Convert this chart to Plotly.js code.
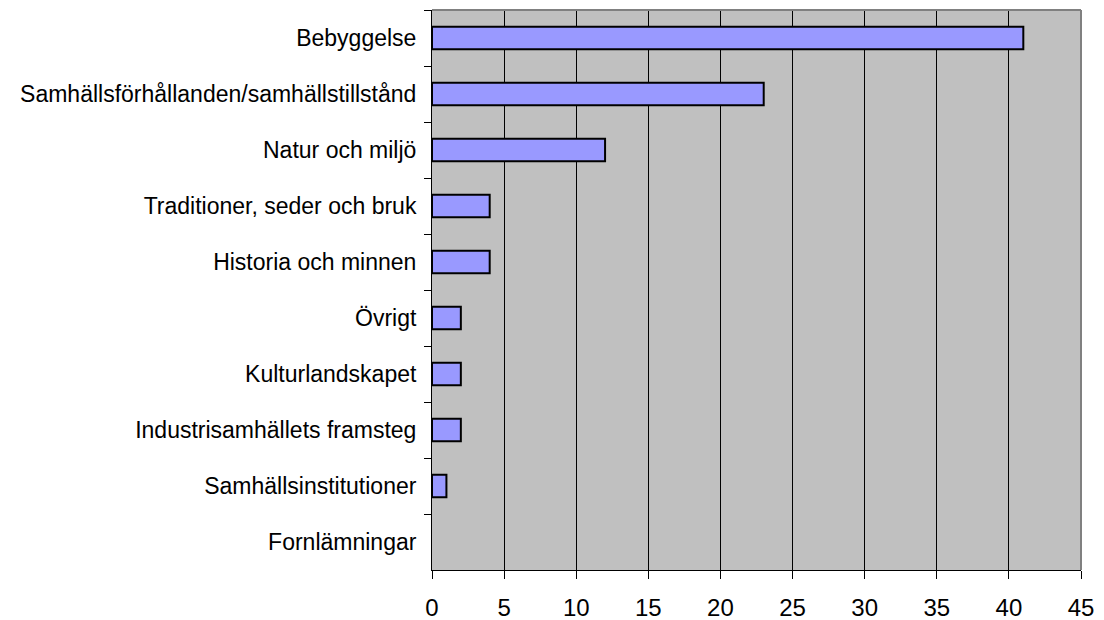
<!DOCTYPE html>
<html>
<head>
<meta charset="utf-8">
<script src="https://cdn.plot.ly/plotly-3.0.1.min.js"></script>
<style>
  body { margin: 0; background: #fff; }
  #chart { width: 1104px; height: 620px; }
</style>
</head>
<body>
<div id="chart"></div>
<script>
// categories, top to bottom
var categories = [
  "Bebyggelse",
  "Samhällsförhållanden/samhällstillstånd",
  "Natur och miljö",
  "Traditioner, seder och bruk",
  "Historia och minnen",
  "Övrigt",
  "Kulturlandskapet",
  "Industrisamhällets framsteg",
  "Samhällsinstitutioner",
  "Fornlämningar"
];
var counts = [41, 23, 12, 4, 4, 2, 2, 2, 1, 0];
var xTicks = [0, 5, 10, 15, 20, 25, 30, 35, 40, 45];

var trace = {
  type: "bar",
  orientation: "h",
  x: counts,
  y: categories,
  width: 0.4,
  marker: {
    color: "#9999FF",
    // no outline on an empty bar
    line: { color: "#000000", width: counts.map(function (v) { return v > 0 ? 2 : 0; }) }
  },
  hoverinfo: "x+y"
};

var layout = {
  width: 1104,
  height: 620,
  margin: { l: 432, r: 23, t: 10, b: 50 },
  paper_bgcolor: "#ffffff",
  plot_bgcolor: "#C0C0C0",
  font: { family: "Liberation Sans, Arial, sans-serif", color: "#000000", size: 18 },
  showlegend: false,
  xaxis: {
    range: [0, 45],
    tickvals: xTicks,
    ticktext: xTicks.map(String),
    showgrid: true,
    gridcolor: "#000000",
    gridwidth: 1,
    zeroline: false,
    showline: true,
    linecolor: "#000000",
    linewidth: 1,
    ticks: "outside",
    ticklen: 8,
    tickcolor: "#000000",
    ticklabelstandoff: 8,
    tickfont: { size: 24 },
    fixedrange: true
  },
  yaxis: {
    type: "category",
    autorange: "reversed",
    tickson: "boundaries",
    ticks: "outside",
    ticklen: 7,
    tickcolor: "#000000",
    showgrid: false,
    showline: true,
    linecolor: "#000000",
    linewidth: 1,
    ticklabelstandoff: 10,
    tickfont: { size: 23 },
    fixedrange: true
  },
  shapes: [
    { type: "line", xref: "paper", yref: "paper", x0: 0, x1: 1, y0: 1, y1: 1,
      line: { color: "#808080", width: 2 }, layer: "above" },
    { type: "line", xref: "paper", yref: "paper", x0: 1, x1: 1, y0: 0, y1: 1,
      line: { color: "#808080", width: 2 }, layer: "above" }
  ]
};

Plotly.newPlot("chart", [trace], layout, { displayModeBar: false });
</script>
</body>
</html>
